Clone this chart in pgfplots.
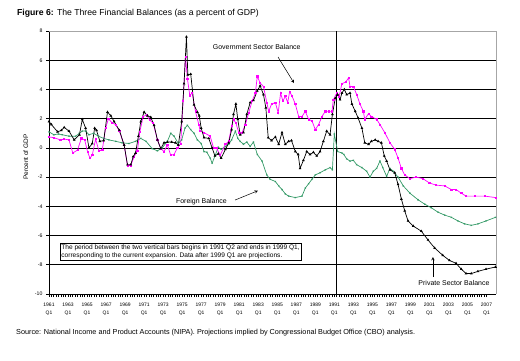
\documentclass[border=0pt]{standalone}
\usepackage{pgfplots}
\pgfplotsset{compat=1.18}
\usepackage{fontspec}
\setmainfont{Liberation Sans}
\definecolor{govc}{RGB}{255,0,255}
\definecolor{forc}{RGB}{51,153,102}
\begin{document}
\begin{tikzpicture}
\path[use as bounding box] (0bp,0bp) rectangle (520bp,361bp);
\node[anchor=base west,inner sep=0pt,font=\fontsize{8.7}{9}\selectfont] at (17bp,345bp) {\textbf{Figure 6:} The Three Financial Balances (as a percent of GDP)};
\node[anchor=base west,inner sep=0pt,font=\fontsize{7.3}{8}\selectfont] at (16bp,27bp) {Source: National Income and Product Accounts (NIPA). Projections implied by Congressional Budget Office (CBO) analysis.};
\begin{axis}[
  at={(49bp,67bp)}, anchor=south west, scale only axis,
  width=447bp, height=263bp,
  xmin=1961, xmax=2008, ymin=-10, ymax=8,
  axis x line*=bottom, axis y line*=left,
  axis line style={black, line width=0.8bp},
  ytick={-10,-8,...,8},
  xtick={1961,1963,...,2007},
  xticklabels={{1961\\Q1},{1963\\Q1},{1965\\Q1},{1967\\Q1},{1969\\Q1},{1971\\Q1},{1973\\Q1},{1975\\Q1},{1977\\Q1},{1979\\Q1},{1981\\Q1},{1983\\Q1},{1985\\Q1},{1987\\Q1},{1989\\Q1},{1991\\Q1},{1993\\Q1},{1995\\Q1},{1997\\Q1},{1999\\Q1},{2001\\Q1},{2003\\Q1},{2005\\Q1},{2007\\Q1}},
  xticklabel style={align=center, font=\fontsize{5}{8.5}\selectfont, yshift=-2.5bp},
  yticklabel style={font=\fontsize{5.2}{6}\selectfont},
  /pgf/number format/assume math mode=true,
  minor x tick num=7,
  tick align=outside,
  major tick length=3bp, minor tick length=3bp,
  every tick/.style={black, line width=0.6bp},
  ymajorgrids, major grid style={black, line width=0.6bp},
  ylabel={Percent of GDP},
  ylabel style={font=\fontsize{6.5}{7}\selectfont, at={(axis description cs:-0.052,0.52)}, anchor=center},
  clip=false,
]
\draw[gray!70, line width=0.8bp] (rel axis cs:0,1) -- (rel axis cs:1,1) -- (rel axis cs:1,0);
\addplot[black, line width=0.7bp] coordinates {(1991.25,-10) (1991.25,8)};
% Foreign balance
\addplot[forc, line width=0.7bp, mark=x, mark size=0.9bp, mark options={line width=0.4bp}] coordinates {
(1961.0,1.1) (1961.5,0.9) (1962.0,0.95) (1962.4,0.9) (1963.1,0.8) (1963.8,0.8) (1964.2,1.0) (1964.5,1.15)
(1964.85,1.15) (1965.2,0.9) (1965.7,1.0) (1966.2,0.8) (1966.75,0.65) (1967.3,0.55) (1968.0,0.45)
(1968.7,0.35) (1969.4,0.3) (1970.1,0.45) (1970.65,0.65) (1971.2,0.45) (1971.85,-0.05) (1972.4,-0.2)
(1972.9,0.0) (1973.45,0.45) (1973.8,1.0) (1974.15,0.8) (1974.6,0.3) (1974.95,0.55) (1975.3,1.35)
(1975.55,1.55) (1975.9,1.25) (1976.25,1.0) (1976.6,0.55) (1977.0,0.3) (1977.3,-0.25) (1977.6,-0.3)
(1977.95,-0.7) (1978.15,-1.05) (1978.45,-0.55) (1978.8,0.05) (1979.1,-0.1) (1979.55,0.1) (1979.9,0.25)
(1980.2,0.55) (1980.6,1.15) (1980.85,0.65) (1981.1,0.45) (1981.45,0.25) (1981.8,0.4) (1982.15,0.1)
(1982.5,0.4) (1982.9,-0.45) (1983.4,-0.9) (1983.9,-1.85) (1984.25,-2.15) (1984.8,-2.3) (1985.15,-2.6)
(1985.5,-2.85) (1985.85,-3.15) (1986.2,-3.3) (1986.9,-3.4) (1987.6,-3.3) (1987.95,-2.75) (1988.3,-2.45)
(1988.65,-2.15) (1989.0,-1.85) (1989.5,-1.7) (1990.05,-1.5) (1990.55,-1.35) (1990.8,-1.5) (1991.0,0.95)
(1991.35,-0.25) (1991.8,-0.35) (1992.0,-0.45) (1992.3,-0.75) (1992.65,-0.9) (1993.0,-0.85) (1993.35,-1.15)
(1993.9,-1.35) (1994.4,-1.6) (1994.75,-2.0) (1995.1,-1.6) (1995.45,-1.4) (1995.8,-0.9) (1996.1,-1.35)
(1996.5,-1.95) (1996.85,-1.4) (1997.2,-1.6) (1997.7,-2.0) (1998.25,-2.6) (1998.95,-3.1) (1999.8,-3.55)
(2000.5,-3.85) (2001.2,-4.1) (2001.9,-4.4) (2002.6,-4.6) (2003.3,-4.75) (2004.0,-5.0) (2004.7,-5.2)
(2005.4,-5.3) (2006.1,-5.2) (2006.95,-5.0) (2007.95,-4.75)
};
% Government balance
\addplot[govc, line width=0.7bp, mark=square*, mark size=0.6bp] coordinates {
(1961.0,0.75) (1961.5,0.7) (1962.2,0.55) (1962.6,0.6) (1963.1,0.55) (1963.5,-0.35) (1964.0,-0.15)
(1964.4,0.65) (1964.75,0.55) (1965.05,-0.25) (1965.3,-0.7) (1965.55,-0.5) (1965.9,0.6) (1966.25,-0.2)
(1966.6,-0.15) (1966.95,1.35) (1967.25,2.0) (1967.65,1.7) (1968.0,1.6) (1968.4,1.15) (1968.9,0.2)
(1969.25,-1.2) (1969.6,-1.2) (1969.95,-0.6) (1970.3,-0.2) (1970.55,1.1) (1970.9,2.15) (1971.25,2.25)
(1971.6,1.9) (1971.95,1.7) (1972.4,0.55) (1972.75,-0.05) (1973.1,-0.25) (1973.45,0.2) (1973.8,-0.5)
(1974.15,-0.45) (1974.5,0.0) (1974.85,0.3) (1975.1,3.2) (1975.35,6.25) (1975.55,4.75) (1975.8,3.6)
(1976.05,3.75) (1976.4,2.5) (1976.75,1.6) (1976.9,1.15) (1977.3,1.05) (1977.95,0.8) (1978.3,0.0)
(1978.6,0.0) (1979.0,-0.5) (1979.55,0.25) (1979.9,0.45) (1980.2,1.5) (1980.4,1.95) (1980.65,1.7)
(1980.95,1.05) (1981.3,1.05) (1981.65,1.6) (1982.0,2.4) (1982.35,3.2) (1982.7,3.75) (1982.9,4.9)
(1983.2,4.45) (1983.55,4.2) (1983.9,3.1) (1984.1,2.5) (1984.4,3.0) (1984.8,3.1) (1985.1,2.4)
(1985.35,3.75) (1985.6,3.2) (1985.85,3.55) (1986.1,3.1) (1986.3,3.85) (1986.55,3.55) (1986.9,3.0)
(1987.25,2.15) (1987.6,2.15) (1987.95,2.5) (1988.3,1.95) (1988.65,1.85) (1989.0,1.25) (1989.35,1.6)
(1989.7,2.15) (1990.05,2.5) (1990.4,2.5) (1990.75,2.5) (1990.9,3.3) (1991.25,3.75) (1991.5,3.5)
(1991.8,4.4) (1992.2,4.5) (1992.5,4.8) (1992.65,4.2) (1993.0,4.2) (1993.35,3.65) (1993.7,3.0)
(1994.05,2.5) (1994.2,1.95) (1994.6,2.35) (1994.9,2.15) (1995.45,1.95) (1995.8,1.6) (1996.3,1.05)
(1996.85,0.35) (1997.35,-0.1) (1997.7,-0.7) (1998.05,-1.4) (1998.4,-1.85) (1998.95,-2.1) (1999.6,-2.0)
(2000.3,-2.1) (2001.0,-2.4) (2001.7,-2.55) (2002.6,-2.6) (2003.3,-2.85) (2003.8,-2.85) (2004.35,-3.1)
(2004.85,-3.3) (2005.75,-3.3) (2006.8,-3.3) (2007.95,-3.4)
};
% Private sector balance
\addplot[black, line width=0.7bp, mark=triangle*, mark size=0.9bp] coordinates {
(1961.0,1.8) (1961.25,1.6) (1961.9,1.1) (1962.3,1.2) (1962.6,1.4) (1963.1,1.15) (1963.65,0.55)
(1964.2,0.9) (1964.5,1.95) (1964.85,1.35) (1965.2,0.0) (1965.55,0.3) (1965.8,1.35) (1966.0,1.2)
(1966.35,0.45) (1966.75,0.5) (1967.15,2.45) (1967.5,2.2) (1967.85,1.8) (1968.4,1.2) (1968.9,0.2)
(1969.25,-1.15) (1969.6,-1.15) (1969.85,-0.6) (1970.1,-0.35) (1970.4,0.8) (1970.65,1.8) (1971.0,2.45)
(1971.35,2.2) (1971.7,2.1) (1972.05,1.55) (1972.4,0.55) (1972.75,-0.05) (1973.1,0.35) (1973.45,0.4)
(1973.9,0.4) (1974.3,0.35) (1974.6,0.2) (1974.95,1.8) (1975.2,4.4) (1975.45,7.6) (1975.6,5.0)
(1975.9,5.05) (1976.25,2.95) (1976.6,2.45) (1976.8,2.2) (1977.0,1.35) (1977.3,0.7) (1977.8,0.65)
(1978.15,0.0) (1978.45,-0.55) (1978.8,-0.4) (1979.1,-0.7) (1979.55,-0.1) (1979.9,0.35) (1980.2,1.25)
(1980.4,2.3) (1980.65,3.0) (1980.85,1.95) (1981.1,0.9) (1981.45,1.05) (1981.8,2.3) (1982.15,3.1)
(1982.5,3.25) (1982.9,3.9) (1983.2,4.25) (1983.55,3.65) (1983.8,2.75) (1984.05,0.7) (1984.4,0.5)
(1984.8,0.75) (1985.15,0.25) (1985.5,1.05) (1985.85,0.25) (1986.2,0.45) (1986.5,0.5) (1986.9,-0.25)
(1987.2,-0.45) (1987.4,-1.4) (1987.75,-0.85) (1988.1,-0.25) (1988.45,-0.45) (1988.8,-0.3) (1989.15,-0.55)
(1989.5,-0.25) (1989.85,0.45) (1990.2,1.15) (1990.55,0.9) (1990.8,2.3) (1991.1,3.4) (1991.35,3.65)
(1991.6,3.3) (1991.8,3.75) (1992.05,4.0) (1992.3,3.65) (1992.65,3.75) (1992.85,3.0) (1993.2,2.5)
(1993.5,2.05) (1993.9,1.35) (1994.2,0.35) (1994.6,0.25) (1994.9,0.45) (1995.3,0.55) (1995.6,0.45)
(1995.95,0.35) (1996.25,-0.55) (1996.5,-0.9) (1996.85,-1.5) (1997.35,-1.7) (1997.7,-2.5) (1998.05,-3.5)
(1998.4,-4.3) (1998.75,-5.0) (1999.3,-5.35) (2000.15,-5.7) (2000.85,-6.3) (2001.55,-6.85) (2002.4,-7.35)
(2003.1,-7.7) (2003.8,-7.9) (2004.35,-8.3) (2004.85,-8.6) (2005.4,-8.6) (2006.1,-8.45) (2006.95,-8.3)
(2007.95,-8.15)
};
% annotations
\node[font=\fontsize{7}{8}\selectfont] at (axis cs:1982.84,6.88) {Government Sector Balance};
\draw[-stealth, black, line width=0.5bp] (axis cs:1985.08,6.22) -- (axis cs:1986.76,4.44);
\node[font=\fontsize{7}{8}\selectfont] at (axis cs:1977.03,-3.70) {Foreign Balance};
\draw[-stealth, black, line width=0.5bp] (axis cs:1980.56,-3.57) -- (axis cs:1982.97,-2.93);
\node[font=\fontsize{7}{8}\selectfont] at (axis cs:2003.58,-9.27) {Private Sector Balance};
\draw[-stealth, black, line width=0.5bp] (axis cs:2001.37,-8.84) -- (axis cs:2001.37,-7.47);
\node[draw=black, fill=white, line width=0.6bp, align=left, inner xsep=1.5bp, inner ysep=1.2bp, font=\fontsize{6.6}{7.6}\selectfont] at (axis cs:1974.83,-7.11) {The period between the two vertical bars begins in 1991 Q2 and ends in 1999 Q1,\\corresponding to the current expansion. Data after 1999 Q1 are projections.};
\end{axis}
\end{tikzpicture}
\end{document}
